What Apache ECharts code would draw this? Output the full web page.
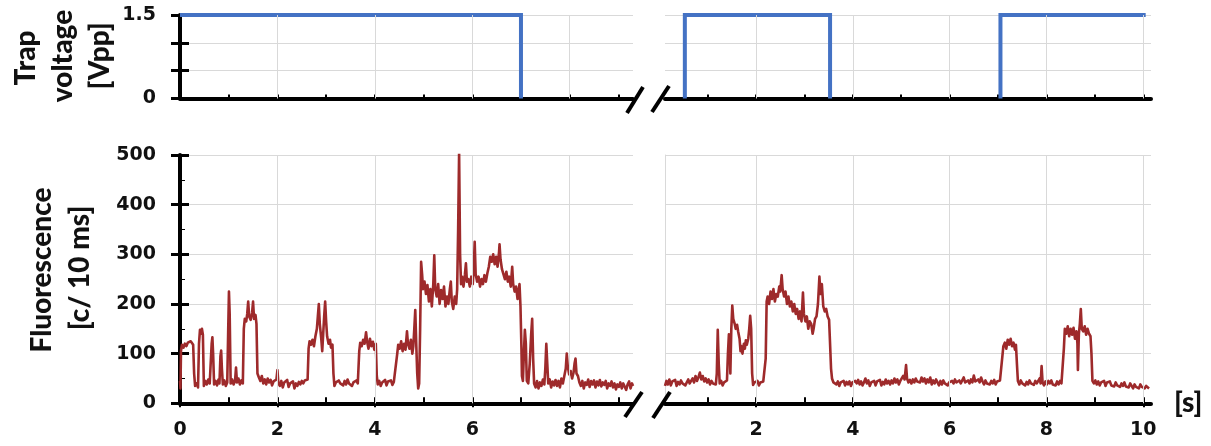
<!DOCTYPE html>
<html>
<head>
<meta charset="utf-8">
<script src="https://cdn.jsdelivr.net/npm/echarts@6/dist/echarts.min.js"></script>
<style>
html,body{margin:0;padding:0;background:#fff;}
#chart{width:1211px;height:446px;}
</style>
</head>
<body>
<div id="chart"></div>
<script>
// ---- data ----
var leftXTicks = [0, 2, 4, 6, 8];
var rightXTicks = [2, 4, 6, 8, 10];
var leftMinorTicks = [1, 2, 3, 4, 5, 6, 7, 8, 9];
var rightMinorTicks = [1, 2, 3, 4, 5, 6, 7, 8, 9, 10];
var voltLabels = [0, 1.5];
var voltTitleLines = ['Trap', 'voltage', '[Vpp]'];
var fluorTitleLines = ['Fluorescence', '[c/ 10 ms]'];
var timeUnit = '[s]';

var leftVolt = [[0, 1.5], [7, 1.5], [7, 0]];
var rightVoltA = [[0.53, 0], [0.53, 1.5], [3.53, 1.5], [3.53, 0]];
var rightVoltB = [[7.05, 0], [7.05, 1.5], [10.05, 1.5]];

var leftFluor = [
[0,45],[0.01,30],[0.02,105],[0.04,118],[0.07,112],[0.1,120],[0.13,115],[0.16,122],[0.19,118],[0.22,125],[0.25,127],[0.27,118],[0.29,60],[0.31,35],[0.34,40],[0.37,32],
[0.39,120],[0.41,148],[0.43,140],[0.45,150],[0.47,138],[0.49,35],
[0.52,45],[0.55,38],[0.58,48],[0.61,40],[0.63,44],
[0.65,120],[0.665,133],[0.68,100],[0.7,38],
[0.73,45],[0.76,36],[0.79,48],[0.81,40],
[0.83,95],[0.845,106],[0.86,70],[0.88,38],[0.91,46],[0.94,35],[0.97,42],
[0.99,150],[1.005,225],[1.02,180],[1.04,40],[1.07,48],[1.1,38],[1.13,45],[1.15,72],[1.17,42],[1.2,50],[1.23,38],[1.26,46],[1.29,40],
[1.31,150],[1.33,170],[1.36,165],[1.38,180],[1.4,205],[1.42,175],[1.45,168],[1.48,182],[1.5,205],[1.52,170],[1.55,178],[1.57,160],[1.59,60],
[1.62,52],[1.65,45],[1.68,55],[1.71,40],[1.74,48],[1.77,38],[1.8,50],[1.83,42],[1.86,47],[1.89,36],[1.92,44],[1.95,40],[1.98,48],[2.0,67],[2.02,40],[2.05,35],[2.08,45],[2.11,32],[2.14,42],[2.17,38],[2.2,47],[2.23,33],[2.26,40],[2.29,36],[2.32,44],[2.35,30],[2.38,40],[2.41,35],[2.44,43],[2.47,38],[2.5,45],[2.53,40],[2.56,46],[2.59,42],[2.62,48],
[2.64,110],[2.66,125],[2.69,118],[2.72,128],[2.75,115],[2.78,135],[2.81,150],[2.83,175],[2.85,200],[2.87,160],[2.9,130],[2.92,105],[2.94,140],[2.96,175],[2.98,205],[3.0,165],[3.02,135],[3.05,120],[3.08,128],[3.1,112],[3.13,118],[3.15,60],
[3.17,35],[3.2,42],[3.23,38],[3.26,46],[3.29,40],[3.32,44],[3.35,36],[3.38,45],[3.41,38],[3.44,48],[3.47,40],[3.5,44],[3.53,35],[3.56,42],[3.59,38],[3.62,46],[3.65,40],
[3.68,105],[3.7,122],[3.73,115],[3.76,128],[3.79,120],[3.82,143],[3.84,125],[3.87,110],[3.9,130],[3.93,115],[3.96,124],[3.99,108],[4.02,120],[4.04,55],
[4.06,38],[4.09,45],[4.12,35],[4.15,42],[4.18,38],[4.21,47],[4.24,36],[4.27,44],[4.3,40],[4.33,46],[4.36,37],[4.39,43],[4.42,40],
[4.46,100],[4.48,118],[4.51,110],[4.54,125],[4.57,105],[4.6,120],[4.63,108],[4.66,145],[4.68,120],[4.71,110],[4.74,128],[4.77,100],[4.79,115],[4.81,150],[4.83,188],[4.85,120],[4.87,60],[4.89,30],[4.91,40],
[4.93,150],[4.95,285],[4.97,260],[4.99,230],[5.02,245],[5.05,220],[5.08,238],[5.11,205],[5.14,230],[5.17,195],[5.2,240],[5.22,298],[5.24,230],[5.27,215],[5.3,240],[5.33,200],[5.36,228],[5.39,210],[5.42,235],[5.45,195],[5.48,215],[5.51,200],[5.54,230],[5.56,245],[5.58,205],[5.61,190],[5.64,215],[5.67,200],[5.69,230],
[5.71,350],[5.73,505],[5.75,300],[5.77,240],[5.79,255],[5.82,235],[5.85,260],[5.87,282],[5.89,245],[5.92,250],[5.95,235],[5.98,255],[6.01,240],[6.03,270],[6.05,325],[6.07,260],[6.1,245],[6.13,255],[6.16,235],[6.19,250],[6.22,240],[6.25,258],[6.28,245],[6.31,262],
[6.34,275],[6.37,295],[6.4,285],[6.43,300],[6.46,280],[6.49,295],[6.52,275],[6.55,305],[6.56,320],[6.58,290],[6.61,270],
[6.64,260],[6.67,250],[6.7,265],[6.73,245],[6.76,255],[6.79,235],[6.82,275],[6.84,240],[6.87,225],[6.9,235],[6.93,210],[6.95,225],[6.97,240],[6.99,195],
[7.01,110],[7.02,55],[7.04,45],[7.06,100],[7.08,148],[7.1,120],[7.12,45],[7.15,40],[7.18,80],[7.21,140],[7.23,170],[7.25,90],[7.27,40],[7.3,32],[7.33,45],[7.36,30],[7.39,42],[7.42,35],[7.45,48],[7.48,38],[7.5,70],[7.52,120],[7.54,80],[7.56,40],[7.59,48],[7.62,32],[7.65,44],[7.68,36],[7.71,47],[7.74,35],[7.77,45],[7.8,32],[7.83,50],[7.86,40],[7.89,55],[7.92,70],[7.94,100],[7.96,75],[7.99,58],[8.02,65],[8.05,50],[8.08,62],[8.1,80],[8.12,90],[8.14,60],[8.17,55],[8.2,42],
[8.23,35],[8.26,45],[8.29,30],[8.32,42],[8.35,37],[8.38,48],[8.41,33],[8.44,45],[8.47,38],[8.5,46],[8.53,32],[8.56,44],[8.59,36],[8.62,47],[8.65,34],[8.68,42],[8.71,37],[8.74,45],[8.77,30],[8.8,40],[8.83,35],[8.86,44],[8.89,32],[8.92,40],[8.95,28],[8.98,38],[9.01,33],[9.04,42],[9.07,30],[9.1,40],[9.13,36],[9.16,27],[9.19,38],[9.22,44],[9.25,30],[9.28,40],[9.3,35]
];

var rightFluor = [
[0.12,35],[0.15,45],[0.18,38],[0.21,48],[0.24,36],[0.27,44],[0.3,40],[0.33,47],[0.36,35],[0.39,43],[0.42,38],[0.45,46],[0.48,40],[0.51,44],[0.54,36],[0.57,42],[0.6,48],[0.63,40],[0.66,45],[0.69,50],[0.72,42],[0.75,55],[0.78,45],[0.81,52],[0.84,62],[0.87,48],[0.9,55],[0.93,44],[0.96,50],[0.99,42],[1.02,48],[1.05,38],[1.08,45],[1.11,40],[1.14,44],[1.17,38],
[1.19,60],[1.21,148],[1.23,80],[1.25,40],[1.28,45],[1.31,36],[1.34,42],[1.37,40],[1.4,46],[1.42,100],[1.44,139],[1.46,110],[1.47,60],[1.49,150],[1.51,197],[1.53,170],[1.56,160],[1.58,150],[1.61,158],[1.63,145],[1.66,130],[1.68,105],[1.7,115],[1.72,100],[1.75,120],[1.77,110],[1.79,127],[1.81,118],[1.84,130],[1.86,150],[1.88,176],[1.9,150],[1.92,60],
[1.94,37],[1.97,42],[2.0,38],[2.03,45],[2.06,36],[2.09,42],[2.12,38],[2.15,44],[2.18,40],
[2.2,90],[2.22,205],[2.24,215],[2.27,200],[2.3,225],[2.33,210],[2.36,230],[2.39,205],[2.42,220],[2.45,215],[2.48,235],[2.5,225],[2.53,258],[2.55,230],[2.58,215],[2.61,225],[2.64,200],[2.67,215],[2.7,195],[2.73,205],[2.76,185],[2.79,200],[2.82,180],[2.85,190],[2.88,170],[2.91,185],[2.94,165],[2.97,223],[2.99,180],[3.02,165],[3.05,175],[3.08,150],[3.11,165],[3.14,160],[3.17,140],[3.19,150],[3.22,170],[3.25,175],[3.28,200],[3.31,255],[3.33,220],[3.36,240],[3.39,195],[3.42,185],[3.45,190],[3.48,175],[3.51,168],[3.53,120],[3.55,70],[3.57,50],
[3.6,42],[3.63,46],[3.66,38],[3.69,44],[3.72,35],[3.75,42],[3.78,38],[3.81,45],[3.84,36],[3.87,43],[3.9,38],[3.93,44],[3.96,35],[3.99,42],[4.02,38],[4.05,45],[4.08,40],[4.11,47],[4.14,38],[4.17,44],[4.2,36],[4.23,42],[4.26,50],[4.29,40],[4.32,46],[4.35,35],[4.38,42],[4.41,38],[4.44,45],[4.47,36],[4.5,44],[4.53,40],[4.56,47],[4.59,36],[4.62,43],[4.65,38],[4.68,48],[4.71,40],[4.74,45],[4.77,38],[4.8,46],[4.83,40],[4.86,50],[4.89,42],[4.92,48],[4.95,38],[4.98,45],[5.01,42],[5.04,55],[5.07,48],[5.1,77],[5.12,50],[5.15,42],[5.18,47],[5.21,40],[5.24,48],[5.27,42],[5.3,50],[5.33,44],[5.36,48],[5.39,42],[5.42,52],[5.45,44],[5.48,50],[5.51,40],[5.54,48],[5.57,42],[5.6,52],[5.63,38],[5.66,46],[5.69,40],[5.72,48],[5.75,42],[5.78,36],[5.81,45],[5.84,38],[5.87,46],[5.9,40],[5.93,44],[5.96,36],[5.99,42],[6.02,38],[6.05,45],[6.08,40],[6.11,48],[6.14,42],[6.17,38],[6.2,46],[6.23,40],[6.26,44],[6.29,52],[6.32,42],[6.35,38],[6.38,46],[6.41,40],[6.44,48],[6.47,42],[6.5,56],[6.53,44],[6.56,40],[6.59,48],[6.62,42],[6.65,52],[6.68,44],[6.71,38],[6.74,46],[6.77,40],[6.8,44],[6.83,38],[6.86,45],[6.89,40],[6.92,47],[6.95,38],[6.98,44],[7.01,40],[7.04,46],[7.07,42],
[7.09,95],[7.11,115],[7.14,122],[7.17,110],[7.2,128],[7.23,118],[7.26,130],[7.29,115],[7.32,122],[7.35,108],[7.37,118],[7.39,80],
[7.41,45],[7.44,38],[7.47,46],[7.5,40],[7.53,44],[7.56,36],[7.59,43],[7.62,38],[7.65,46],[7.68,40],[7.71,44],[7.74,37],[7.77,45],[7.8,40],[7.83,42],[7.86,50],[7.88,40],[7.9,75],[7.92,42],[7.95,36],[7.98,44],[8.01,38],[8.04,45],[8.07,40],[8.1,46],[8.13,38],[8.16,42],[8.19,36],[8.22,44],[8.25,38],[8.28,45],[8.31,40],[8.34,44],
[8.36,110],[8.38,150],[8.41,140],[8.44,155],[8.47,135],[8.5,150],[8.53,138],[8.56,152],[8.59,130],[8.62,145],[8.64,120],[8.65,67],[8.67,140],[8.69,160],[8.71,190],[8.73,150],[8.76,145],[8.79,155],[8.82,138],[8.85,150],[8.88,140],[8.91,135],[8.93,100],
[8.95,45],[8.98,40],[9.01,46],[9.04,38],[9.07,44],[9.1,36],[9.13,42],[9.16,38],[9.19,45],[9.22,35],[9.25,42],[9.28,38],[9.31,44],[9.34,36],[9.37,40],[9.4,34],[9.43,42],[9.46,36],[9.49,40],[9.52,33],[9.55,40],[9.58,35],[9.61,42],[9.64,34],[9.67,38],[9.7,32],[9.73,40],[9.76,35],[9.79,30],[9.82,38],[9.85,33],[9.88,36],[9.91,30],[9.94,38],[9.97,33],[10.0,36],[10.03,30],[10.06,35],[10.09,32],[10.12,30]
];

var leftGridX = [2, 4, 6, 8];
var rightGridX = [2, 4, 6, 8, 10];

// ---- styling ----
var FONT = 'Lato';
var TICKFONT = 'DejaVu Sans';
var GRID = '#d9d9d9';
var BLUE = '#4472C4';
var RED = '#9E2A2B';
var LX = {min: 0, max: 9.3};
var RX = {min: 0.12, max: 10.16};

var chart = echarts.init(document.getElementById('chart'), null, {renderer: 'canvas'});

function xAx(grid, ext, opts) {
  var base = {
    type: 'value', gridIndex: grid, min: ext.min, max: ext.max, position: 'bottom',
    axisLine: {show: false}, axisTick: {show: false}, axisLabel: {show: false},
    splitLine: {show: false}
  };
  return Object.assign(base, opts || {});
}
function yAx(grid, mn, mx, iv, opts) {
  var base = {
    type: 'value', gridIndex: grid, min: mn, max: mx, interval: iv, position: 'left',
    axisLine: {show: false}, axisTick: {show: false}, axisLabel: {show: false},
    splitLine: {show: false}
  };
  return Object.assign(base, opts || {});
}
var blackLine = {show: true, onZero: false, lineStyle: {color: '#000', width: 4}};
var labelStyle = {color: '#111', fontFamily: TICKFONT, fontWeight: 'bold', fontSize: 19};
var titleFont = '900 28px ' + FONT;

function gridLines(xi, yi, vals) {
  return {
    type: 'line', xAxisIndex: xi, yAxisIndex: yi, data: [], z: 1, silent: true,
    markLine: {
      silent: true, symbol: 'none', label: {show: false}, animation: false,
      lineStyle: {color: GRID, width: 1, type: 'solid'},
      emphasis: {disabled: true},
      data: vals.map(function (v) { return {xAxis: v}; })
    }
  };
}
function titleText(txt, x, y) {
  return {type: 'text', x: x, y: y, rotation: Math.PI / 2, z: 100,
    style: {text: txt, font: titleFont, fill: '#111', align: 'center', verticalAlign: 'middle'}};
}

var option = {
  animation: false,
  backgroundColor: '#fff',
  grid: [
    {left: 180, right: 578, top: 15, height: 83.5, outerBoundsMode: 'none'},
    {left: 665, right: 60, top: 15, height: 83.5, outerBoundsMode: 'none'},
    {left: 180, right: 578, top: 155, height: 248.3, outerBoundsMode: 'none'},
    {left: 665, right: 60, top: 155, height: 248.3, outerBoundsMode: 'none'}
  ],
  xAxis: [
    xAx(0, LX, {axisLine: blackLine, axisTick: {show: true, inside: true, length: 4, customValues: leftMinorTicks, lineStyle: {color: '#000', width: 2}}}),
    xAx(1, RX, {axisLine: blackLine, axisTick: {show: true, inside: true, length: 4, customValues: rightMinorTicks, lineStyle: {color: '#000', width: 2}}}),
    xAx(2, LX, {axisLine: blackLine,
      axisTick: {show: true, inside: true, length: 6, customValues: leftMinorTicks, lineStyle: {color: '#000', width: 2}},
      axisLabel: Object.assign({show: true, margin: 17, customValues: leftXTicks}, labelStyle)}),
    xAx(3, RX, {axisLine: blackLine,
      axisTick: {show: true, inside: true, length: 6, customValues: rightMinorTicks, lineStyle: {color: '#000', width: 2}},
      axisLabel: Object.assign({show: true, margin: 17, customValues: rightXTicks}, labelStyle),
      name: timeUnit, nameLocation: 'end', nameGap: 23, nameMoveOverlap: false,
      nameTextStyle: {color: '#111', fontFamily: FONT, fontWeight: 900, fontSize: 28, verticalAlign: 'middle', padding: [0, 0, 4, 0]}}),
    xAx(2, LX, {axisTick: {show: true, inside: false, length: 4, customValues: leftXTicks, lineStyle: {color: '#000', width: 2}}}),
    xAx(3, RX, {axisTick: {show: true, inside: false, length: 4, customValues: rightXTicks, lineStyle: {color: '#000', width: 2}}})
  ],
  yAxis: [
    // 0: top-left main
    yAx(0, 0, 1.5, 0.5, {
      axisLine: blackLine,
      axisTick: {show: true, inside: false, length: 9, lineStyle: {color: '#000', width: 3}},
      axisLabel: Object.assign({show: true, margin: 24, customValues: voltLabels, formatter: function (v) { return String(v); }}, labelStyle),
      splitLine: {show: true, lineStyle: {color: GRID, width: 1}}
    }),
    // 1: top-left inside ticks
    yAx(0, 0, 1.5, 0.5, {axisTick: {show: true, inside: true, length: 9, lineStyle: {color: '#000', width: 3}}}),
    // 2: top-right
    yAx(1, 0, 1.5, 0.5, {splitLine: {show: true, lineStyle: {color: GRID, width: 1}}}),
    // 3: bottom-left main
    yAx(2, 0, 500, 100, {
      axisLine: blackLine,
      axisTick: {show: true, inside: false, length: 9, lineStyle: {color: '#000', width: 3}},
      axisLabel: Object.assign({show: true, margin: 24}, labelStyle),
      splitLine: {show: true, lineStyle: {color: GRID, width: 1}}
    }),
    // 4: bottom-left inside ticks + minor
    yAx(2, 0, 500, 100, {
      axisTick: {show: true, inside: true, length: 9, lineStyle: {color: '#000', width: 3}},
      minorTick: {show: true, splitNumber: 2, length: 5, lineStyle: {color: '#000', width: 1}}
    }),
    // 5: bottom-right
    yAx(3, 0, 500, 100, {
      axisLine: {show: true, lineStyle: {color: GRID, width: 1}},
      splitLine: {show: true, lineStyle: {color: GRID, width: 1}}
    })
  ],
  series: [
    gridLines(0, 0, leftGridX),
    gridLines(1, 2, rightGridX),
    gridLines(2, 3, leftGridX),
    gridLines(3, 5, rightGridX),
    {type: 'line', xAxisIndex: 0, yAxisIndex: 0, data: leftVolt, symbol: 'none', z: 2, clip: false,
      lineStyle: {color: BLUE, width: 4, join: 'miter', cap: 'butt'}},
    {type: 'line', xAxisIndex: 1, yAxisIndex: 2, data: rightVoltA, symbol: 'none', z: 2, clip: false,
      lineStyle: {color: BLUE, width: 4, join: 'miter', cap: 'butt'}},
    {type: 'line', xAxisIndex: 1, yAxisIndex: 2, data: rightVoltB, symbol: 'none', z: 2, clip: false,
      lineStyle: {color: BLUE, width: 4, join: 'miter', cap: 'butt'}},
    {type: 'line', xAxisIndex: 2, yAxisIndex: 3, data: leftFluor, symbol: 'none', z: 2,
      lineStyle: {color: RED, width: 2.6, join: 'round'}},
    {type: 'line', xAxisIndex: 3, yAxisIndex: 5, data: rightFluor, symbol: 'none', z: 2,
      lineStyle: {color: RED, width: 2.6, join: 'round'}}
  ],
  graphic: [
    titleText(voltTitleLines[0], 26, 58),
    titleText(voltTitleLines[1], 63, 56),
    titleText(voltTitleLines[2], 100, 56),
    titleText(fluorTitleLines[0], 42, 270),
    titleText(fluorTitleLines[1], 80, 268),
    {type: 'line', z: 100, shape: {x1: 627, y1: 113, x2: 643, y2: 87}, style: {stroke: '#000', lineWidth: 4}},
    {type: 'line', z: 100, shape: {x1: 652, y1: 112, x2: 669, y2: 86}, style: {stroke: '#000', lineWidth: 4}},
    {type: 'line', z: 100, shape: {x1: 625, y1: 417, x2: 642, y2: 392}, style: {stroke: '#000', lineWidth: 4}},
    {type: 'line', z: 100, shape: {x1: 653, y1: 418, x2: 670, y2: 392}, style: {stroke: '#000', lineWidth: 4}}
  ]
};
chart.setOption(option);
</script>
</body>
</html>
